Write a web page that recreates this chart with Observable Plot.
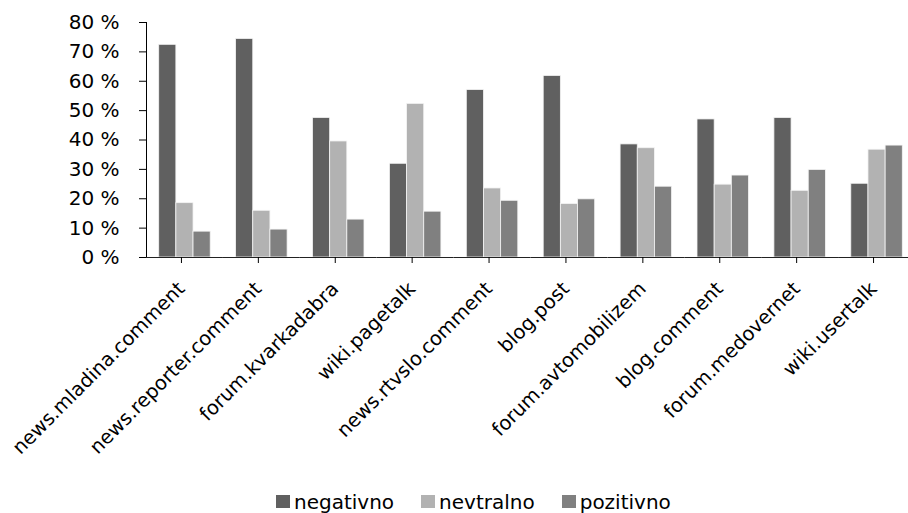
<!DOCTYPE html>
<html>
<head>
<meta charset="utf-8">
<script src="https://cdn.jsdelivr.net/npm/d3@7"></script>
<script src="https://cdn.jsdelivr.net/npm/@observablehq/plot@0.6"></script>
<style>
  html, body { margin: 0; padding: 0; background: #fff; overflow: hidden; }
  #chart { width: 908px; height: 513px; position: relative; font-family: "DejaVu Sans", sans-serif; }
  #legend { display: flex; justify-content: flex-start; align-items: center; padding-left: 276px; height: 25px; margin-top: 1px;
            font-size: 20px; color: #000; }
  .item { display: flex; align-items: center; margin-right: 27px; }
  .sw { width: 14px; height: 13px; margin-right: 4px; }
</style>
</head>
<body>
<div id="chart"></div>
<script>
const categories = ["news.mladina.comment", "news.reporter.comment", "forum.kvarkadabra", "wiki.pagetalk",
  "news.rtvslo.comment", "blog.post", "forum.avtomobilizem", "blog.comment", "forum.medovernet", "wiki.usertalk"];
const series = ["negativno", "nevtralno", "pozitivno"];
const negativno = [72.4, 74.4, 47.5, 31.9, 57.0, 61.8, 38.5, 47.0, 47.5, 25.1];
const nevtralno = [18.5, 15.9, 39.5, 52.3, 23.5, 18.2, 37.2, 24.8, 22.7, 36.7];
const pozitivno = [8.8, 9.5, 12.9, 15.6, 19.3, 19.8, 24.1, 27.9, 29.8, 38.1];
const colors = ["#606060", "#b2b2b2", "#808080"];
const yTicks = [0, 10, 20, 30, 40, 50, 60, 70, 80];

const valuesBySeries = [negativno, nevtralno, pozitivno];
const data = categories.flatMap((c, i) => series.map((s, j) => ({category: c, series: s, value: valuesBySeries[j][i]})));

const font = "\"DejaVu Sans\", sans-serif";

const chart = Plot.plot({
  width: 908,
  height: 488,
  marginLeft: 146,
  marginRight: -7,
  marginTop: 22,
  marginBottom: 231,
  style: {fontFamily: font, fontSize: "20px", color: "#000", background: "#fff", overflow: "visible"},
  fx: {domain: categories, paddingInner: 0, paddingOuter: 0, round: false, label: null},
  x: {domain: series, paddingInner: 0, paddingOuter: 0.74, round: false, axis: null},
  y: {domain: [0, 80], label: null},
  color: {domain: series, range: colors},
  marks: [
    Plot.barY(data, {fx: "category", x: "series", y: "value", fill: "series", stroke: "#f4f4f4", strokeWidth: 0.8}),
    Plot.frame({anchor: "left", facetAnchor: "left", stroke: "#000", strokeWidth: 1}),
    Plot.ruleY([0], {stroke: "#222", strokeWidth: 1.2}),
    Plot.axisY({ticks: yTicks, tickFormat: d => d + " %", tickSize: 7, tickPadding: 20, fontSize: 20, label: null}),
    Plot.axisFx({anchor: "bottom", tickRotate: -45, tickSize: 6, tickPadding: 22, dx: -3.5, fontSize: 19.5, label: null})
  ]
});
document.getElementById("chart").appendChild(chart);

const legend = d3.select("#chart").append("div").attr("id", "legend");
series.forEach((s, i) => {
  const it = legend.append("div").attr("class", "item");
  it.append("div").attr("class", "sw").style("background", colors[i]);
  it.append("span").text(s);
});
</script>
</body>
</html>
